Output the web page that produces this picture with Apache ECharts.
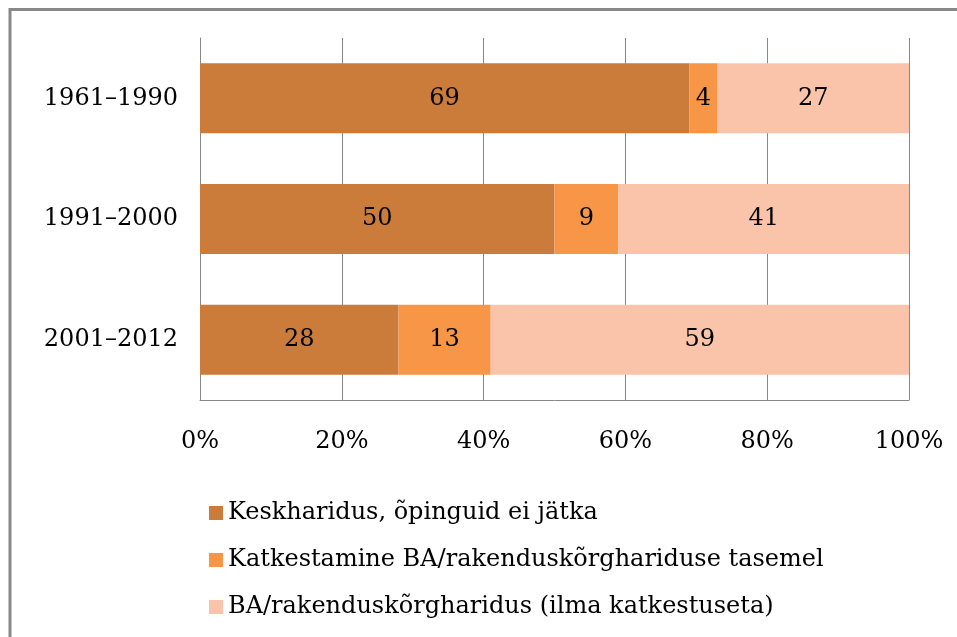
<!DOCTYPE html>
<html>
<head>
<meta charset="utf-8">
<script src="https://cdn.jsdelivr.net/npm/echarts@6/dist/echarts.min.js"></script>
<style>
  html, body { margin: 0; padding: 0; background: #fff; }
  #main { width: 957px; height: 637px; }
</style>
</head>
<body>
<div id="main"></div>
<script>
var categories = ['1961–1990', '1991–2000', '2001–2012'];
var seriesNames = [
  'Keskharidus, õpinguid ei jätka',
  'Katkestamine BA/rakenduskõrghariduse tasemel',
  'BA/rakenduskõrgharidus (ilma katkestuseta)'
];
var keskharidus = [69, 50, 28];
var katkestamine = [4, 9, 13];
var rakendus = [27, 41, 59];
var xTicks = [0, 20, 40, 60, 80, 100];

var colors = ['#CB7B3A', '#F79646', '#F9C4AA'];
var font = 'DejaVu Serif';

var chartDom = document.getElementById('main');
var myChart = echarts.init(chartDom);

var values = [keskharidus, katkestamine, rakendus];
var series = seriesNames.map(function (name, i) {
  return {
    name: name,
    type: 'bar',
    stack: 'total',
    barWidth: 70,
    data: values[i],
    itemStyle: { color: colors[i] },
    label: {
      show: true,
      position: 'inside',
      color: '#000',
      fontFamily: font,
      fontSize: 24
    }
  };
});

var option = {
  backgroundColor: '#FFF',
  animation: false,
  graphic: [{
    type: 'rect',
    shape: { x: 10, y: 9.5, width: 1200, height: 1000 },
    style: { fill: 'none', stroke: '#888', lineWidth: 3 }
  }],
  grid: { left: 200, right: 48, top: 38, bottom: 237 },
  legend: {
    orient: 'vertical',
    left: 204,
    top: 496,
    height: 150,
    itemWidth: 14,
    itemHeight: 14,
    itemGap: 23,
    icon: 'rect',
    data: seriesNames,
    textStyle: { fontFamily: font, fontSize: 24, color: '#000' }
  },
  xAxis: {
    type: 'value',
    min: xTicks[0],
    max: xTicks[xTicks.length - 1],
    interval: 20,
    axisLine: { show: true, lineStyle: { color: '#888' } },
    axisTick: { show: false },
    splitLine: { show: true, lineStyle: { color: '#888' } },
    axisLabel: {
      formatter: '{value}%',
      margin: 30,
      color: '#000',
      fontFamily: font,
      fontSize: 24
    }
  },
  yAxis: {
    type: 'category',
    inverse: true,
    data: categories,
    axisLine: { show: true, lineStyle: { color: '#888' } },
    axisTick: { show: false },
    axisLabel: {
      margin: 22,
      color: '#000',
      fontFamily: font,
      fontSize: 24
    }
  },
  series: series
};

option && myChart.setOption(option);
</script>
</body>
</html>
